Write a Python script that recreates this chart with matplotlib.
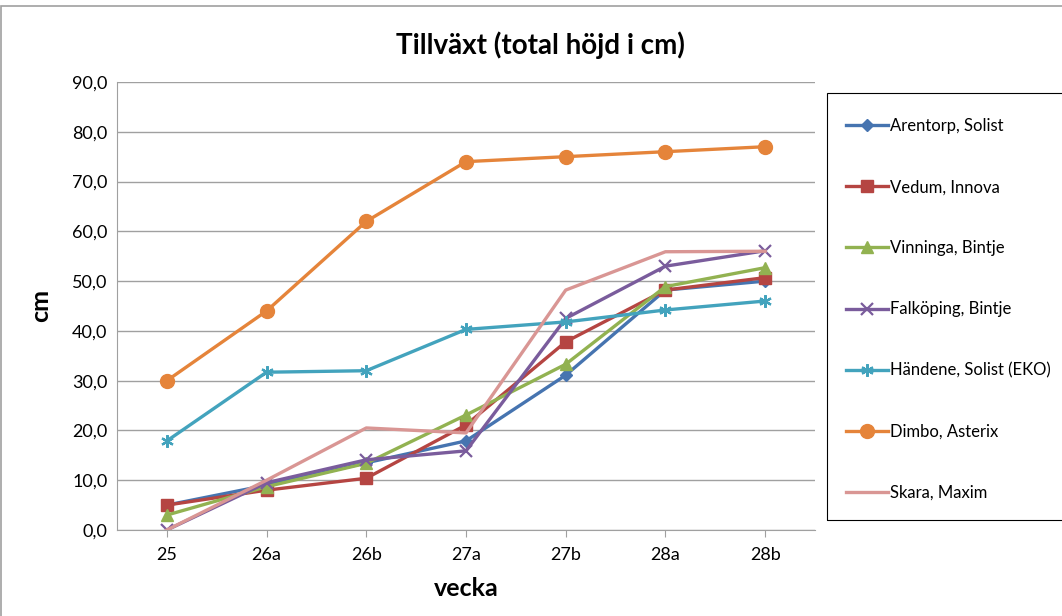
import matplotlib
matplotlib.use('Agg')
import matplotlib.pyplot as plt
from matplotlib.ticker import FuncFormatter

plt.rcParams['font.family'] = ['Lato', 'DejaVu Sans']

weeks = ['25', '26a', '26b', '27a', '27b', '28a', '28b']

arentorp = [5.0, 9.0, 13.5, 17.9, 31.1, 48.2, 50.0]
vedum = [5.0, 8.0, 10.4, 21.1, 37.8, 48.2, 50.7]
vinninga = [3.0, 8.7, 13.4, 23.1, 33.3, 48.9, 52.7]
falkoping = [0.0, 9.5, 14.1, 15.9, 42.5, 53.0, 56.1]
handene = [17.9, 31.7, 32.0, 40.3, 41.8, 44.2, 46.0]
dimbo = [30.0, 44.0, 62.0, 74.0, 75.0, 76.0, 77.0]
skara = [0.0, 10.0, 20.5, 19.5, 48.2, 55.9, 56.0]

series_names = ['Arentorp, Solist', 'Vedum, Innova', 'Vinninga, Bintje',
                'Falköping, Bintje', 'Händene, Solist (EKO)', 'Dimbo, Asterix',
                'Skara, Maxim']
series_vals = [arentorp, vedum, vinninga, falkoping, handene, dimbo, skara]
colors = ['#4674b0', '#b54542', '#92b251', '#7a5c9c', '#43a3bd', '#e5843a', '#d99694']
markers = ['D', 's', '^', 'x', (6, 2, 0), 'o', None]
msizes = [6.5, 9, 9, 9, 9, 10, 0]

fig = plt.figure(figsize=(10.62, 6.16), dpi=100)
ax = fig.add_axes([117/1062, 1-530/616, (815-117)/1062, (530-82)/616])

x = list(range(len(weeks)))
for name, vals, c, m, ms in zip(series_names, series_vals, colors, markers, msizes):
    ax.plot(x, vals, color=c, lw=2.4, marker=m, markersize=ms,
            markeredgewidth=1.6 if m in ('x', (6, 2, 0)) else 1, label=name)

ax.set_xlim(-0.5, 6.5)
ax.set_ylim(0, 90)
ax.set_yticks(range(0, 91, 10))
ax.yaxis.set_major_formatter(FuncFormatter(lambda v, p: f'{v:.1f}'.replace('.', ',')))
ax.set_xticks(x)
ax.set_xticklabels(weeks)
ax.grid(axis='y', color='#a0a0a0', lw=1)
ax.set_axisbelow(True)
for s in ['top', 'right']:
    ax.spines[s].set_visible(False)
for s in ['left', 'bottom']:
    ax.spines[s].set_color('#a0a0a0')
ax.tick_params(axis='both', labelsize=13, length=0, pad=7)
ax.tick_params(axis='x', length=5, color='#a0a0a0', direction='out', pad=7)

fig.text(540/1062, 1-45/616, 'Tillväxt (total höjd i cm)', fontsize=20,
         fontweight='bold', ha='center', va='center')
ax.set_ylabel('cm', fontsize=18, fontweight='bold', labelpad=14)
ax.set_xlabel('vecka', fontsize=18, fontweight='bold', labelpad=10)

# legend box, runs off the right edge like in the original
fig.patches.append(plt.Rectangle((827/1062, 1-520/616), 0.3, 427/616,
                                 transform=fig.transFigure, fill=False,
                                 edgecolor='black', lw=0.8))
leg = fig.legend(loc='upper left', bbox_to_anchor=(833/1062, 1-105/616),
                 fontsize=12, labelspacing=2.7, handlelength=2.5, handletextpad=0.15,
                 borderpad=0.3, frameon=False)

# chart area border
fig.patches.append(plt.Rectangle((0.001, -0.01), 1.2, 1.0, transform=fig.transFigure,
                                 fill=False, edgecolor='#a0a0a0', lw=1.2))

fig.savefig('out.png', dpi=100)
